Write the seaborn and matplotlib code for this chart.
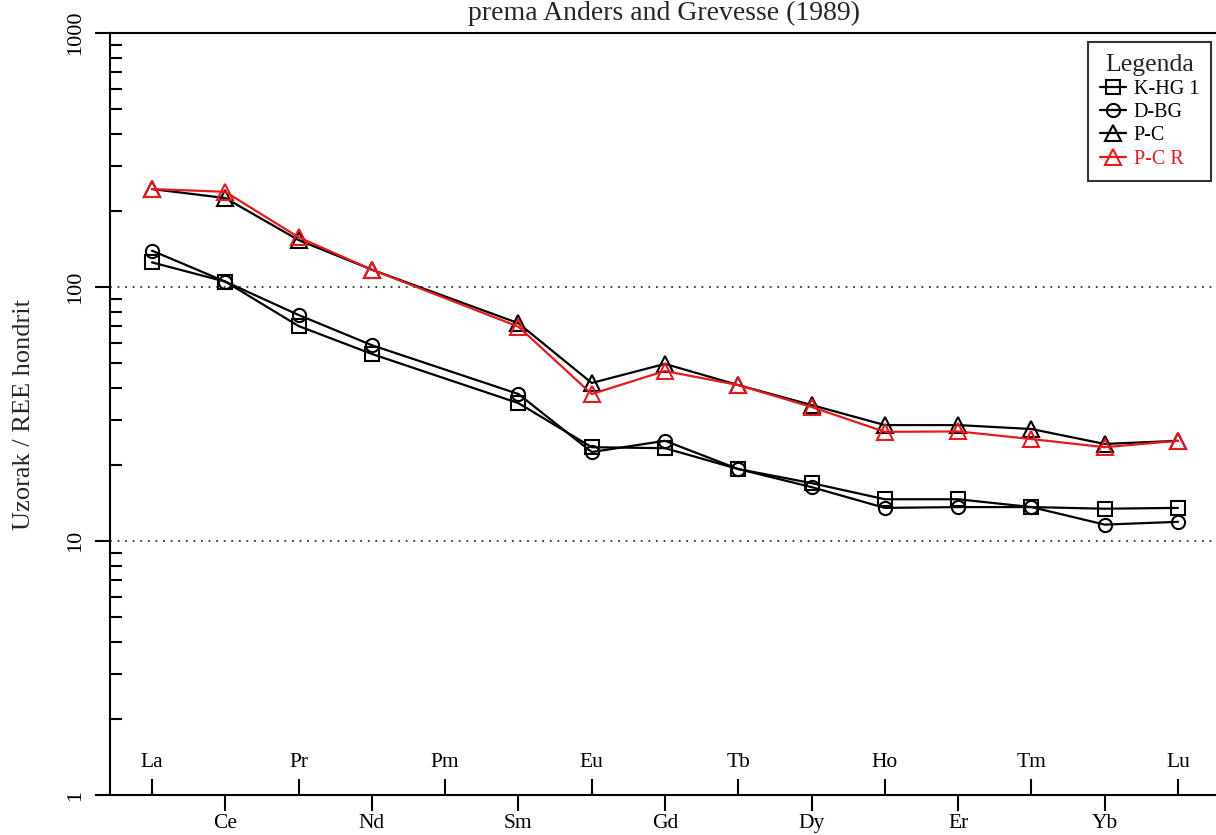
import numpy as np
import pandas as pd
import matplotlib
matplotlib.use("Agg")
import matplotlib.pyplot as plt
from matplotlib.ticker import FixedLocator, LogLocator, NullFormatter
import seaborn as sns

# ---- data ----
elements = ["La", "Ce", "Pr", "Nd", "Pm", "Sm", "Eu", "Gd", "Tb", "Dy",
            "Ho", "Er", "Tm", "Yb", "Lu"]
k_hg1 = [125, 105, 70.2, 54.5, np.nan, 34.9, 23.4, 23.2, 19.2, 16.9,
         14.6, 14.6, 13.6, 13.4, 13.5]
d_bg = [139, 105, 77.6, 59.0, np.nan, 37.9, 22.4, 24.8, 19.2, 16.3,
        13.5, 13.6, 13.6, 11.6, 11.9]
p_c = [243, 224, 153, 117, np.nan, 72.0, 41.9, 49.8, 41.1, 34.3,
       28.6, 28.6, 27.6, 24.1, 24.8]
p_c_r = [243, 237, 157, 117, np.nan, 69.8, 37.9, 46.7, 41.1, 33.7,
         26.9, 27.0, 25.2, 23.4, 24.8]
series_names = ["K-HG 1", "D-BG", "P-C", "P-C R"]
series_values = [k_hg1, d_bg, p_c, p_c_r]
series_colors = ["black", "black", "black", "#e41a1c"]
series_markers = ["s", "o", "^", "^"]
title_text = "prema Anders and Grevesse (1989)"
ylabel_text = "Uzorak / REE hondrit"
legend_title = "Legenda"

rows = []
for name, vals in zip(series_names, series_values):
    for i, (el, v) in enumerate(zip(elements, vals)):
        rows.append({"sample": name, "element": el, "pos": i, "value": v})
df = pd.DataFrame(rows).dropna()

sns.set_theme(style="ticks")
plt.rcParams["font.family"] = ["Liberation Serif", "DejaVu Serif"]

W, H = 1216, 835
fig = plt.figure(figsize=(W / 100, H / 100), dpi=100)
ax_left, ax_right, ax_top, ax_bottom = 110, 1216, 33, 795
ax = fig.add_axes([ax_left / W, 1 - ax_bottom / H,
                   (ax_right - ax_left) / W, (ax_bottom - ax_top) / H])

sns.lineplot(data=df, x="pos", y="value", hue="sample", style="sample",
             hue_order=series_names, style_order=series_names,
             palette=dict(zip(series_names, series_colors)),
             markers=dict(zip(series_names, series_markers)),
             dashes=False, sort=False, estimator=None, legend=False,
             linewidth=1.6, ax=ax)

sizes = {"s": 9.5, "o": 9.5, "^": 11.5}
for line, c, m in zip(ax.lines, series_colors, series_markers):
    line.set_color(c)
    line.set_markerfacecolor("none")
    line.set_markeredgecolor(c)
    line.set_markeredgewidth(1.5)
    line.set_markersize(sizes[m])
    line.set_zorder(3)

handles = list(ax.lines[:len(series_names)])

ax.set_yscale("log")
ax.set_ylim(1, 1000)
pitch = (1178 - 152) / 14.0
ax.set_xlim(-(152 - ax_left) / pitch, 14 + (ax_right - 1178) / pitch)

for yv in (10, 100):
    ax.axhline(yv, color="#333333", lw=1.3, ls=(0, (1, 3.2)), zorder=1)

# y ticks
ax.yaxis.set_major_locator(FixedLocator([1, 10, 100, 1000]))
ax.set_yticklabels(["1", "10", "100", "1000"])
ax.yaxis.set_minor_locator(LogLocator(base=10, subs=np.arange(2, 10)))
ax.yaxis.set_minor_formatter(NullFormatter())
ax.tick_params(axis="y", which="major", direction="out", length=11,
               width=1.5, pad=7, labelsize=16, labelrotation=90,
               colors="black")
ax.tick_params(axis="y", which="minor", direction="in", length=8.5,
               width=1.5, colors="black")
for t in ax.get_yticklabels():
    t.set_va("center")

# x ticks: alternating inside/outside
maj_pos = list(range(0, len(elements), 2))
min_pos = list(range(1, len(elements), 2))
ax.set_xticks(maj_pos, [elements[i] for i in maj_pos])
ax.set_xticks(min_pos, [elements[i] for i in min_pos], minor=True)
ax.tick_params(axis="x", which="major", direction="in", length=11.5,
               width=1.5, pad=-30, labelsize=15.5, colors="black")
ax.tick_params(axis="x", which="minor", direction="out", length=11.5,
               width=1.5, pad=2.5, labelsize=15.5, colors="black")

ax.set_xlabel("")
ax.set_ylabel(ylabel_text, fontsize=19, va="center")
ax.yaxis.set_label_coords((24 - ax_left) / (ax_right - ax_left), 0.5)

for s in ["left", "top", "bottom"]:
    ax.spines[s].set_linewidth(1.5)
    ax.spines[s].set_color("black")
ax.spines["right"].set_visible(False)

fig.text((ax_left + 1219) / 2 / W, 1 - 1 / H, title_text, ha="center",
         va="top", fontsize=20)

leg = ax.legend(handles=handles, labels=series_names, title=legend_title,
                loc="upper right", bbox_to_anchor=(1211 / W, 1 - 42 / H),
                bbox_transform=fig.transFigure, borderaxespad=0,
                fontsize=14.5, title_fontsize=18.5, handlelength=1.3,
                handletextpad=0.35, labelspacing=0.2, borderpad=0.6,
                frameon=True, fancybox=False, numpoints=1)
leg.get_frame().set_edgecolor("black")
leg.get_frame().set_linewidth(1.5)
for txt, c in zip(leg.get_texts(), series_colors):
    txt.set_color(c)

fig.savefig("out.png", dpi=100)
